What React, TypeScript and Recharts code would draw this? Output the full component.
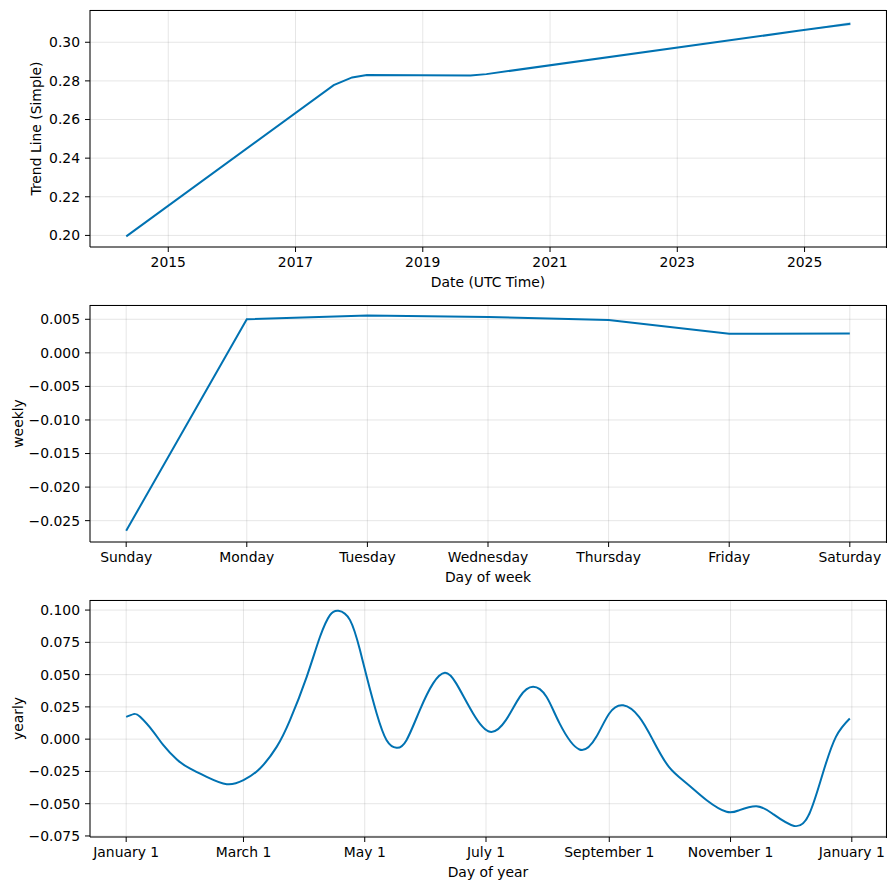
import React from "react";
import {
  ComposedChart,
  LineChart,
  Line,
  Area,
  XAxis,
  YAxis,
  CartesianGrid,
  Label,
} from "recharts";

// trend component (decimal years)
const trendYears = [2014.34, 2017.6, 2017.89, 2018.12, 2019.75, 2020.0, 2024.9, 2025.72];
const trendValues = [0.1995, 0.2778, 0.2818, 0.2831, 0.2828, 0.2835, 0.3059, 0.3096];
const trendLower = [0.1995, 0.2778, 0.2818, 0.2831, 0.2828, 0.2835, 0.3059, 0.3087];
const trendUpper = [0.1995, 0.2778, 0.2818, 0.2831, 0.2828, 0.2835, 0.3059, 0.3105];
const trendTicks = [2015, 2017, 2019, 2021, 2023, 2025];
const trendYTicks = [0.2, 0.22, 0.24, 0.26, 0.28, 0.3];

// weekly component
const weekDays = ["Sunday", "Monday", "Tuesday", "Wednesday", "Thursday", "Friday", "Saturday"];
const weeklyValues = [-0.0265, 0.005, 0.00555, 0.00535, 0.0049, 0.00285, 0.0029];
const weeklyYTicks = [-0.025, -0.02, -0.015, -0.01, -0.005, 0, 0.005];

// yearly component (day of year)
const yearDays = [
  0, 3.7, 7, 13.7, 18.7, 25.5, 32, 40.5, 50.6, 59, 67.3, 75.7, 82.4, 90.8, 97.5,
  102.5, 106.7, 112.6, 117.6, 121, 126, 131, 136, 141, 147.7, 154.4, 160.3, 166,
  174.5, 183, 191, 198, 204.7, 211.4, 218, 228, 236.5, 243, 250, 258, 265, 273,
  282, 292, 302, 308.5, 317, 325, 336, 343.7, 350.4, 357, 364,
];
const yearlyValues = [
  0.0173, 0.0194, 0.0173, 0.0057, -0.0047, -0.0158, -0.0227, -0.0292, -0.0349,
  -0.0318, -0.0227, -0.006, 0.0147, 0.0483, 0.0793, 0.0961, 0.0995, 0.0922,
  0.069, 0.0483, 0.0199, -0.0008, -0.0067, -0.0008, 0.0225, 0.0432, 0.0514,
  0.0432, 0.0199, 0.0057, 0.0147, 0.0328, 0.0405, 0.0328, 0.0122, -0.008,
  0.0018, 0.0199, 0.0262, 0.0173, -0.0008, -0.0215, -0.0343, -0.0473, -0.0563,
  -0.055, -0.0519, -0.0576, -0.0672, -0.0576, -0.0266, 0.0018, 0.016,
];
const monthTicks = [0, 59, 120, 181, 243, 304, 365];
const monthLabels = ["January 1", "March 1", "May 1", "July 1", "September 1", "November 1", "January 1"];
const yearlyYTicks = [-0.075, -0.05, -0.025, 0, 0.025, 0.05, 0.075, 0.1];

const BLUE = "#0072B2";
const FONT = '"DejaVu Sans", sans-serif';
const FS = 13.9;
const W = 895;
const H = 295;
const margin = { top: 10, right: 9, bottom: 0, left: 0 };
const tick = { fill: "#000", stroke: "none", fontSize: FS, fontFamily: FONT, fontWeight: 400 };
const black = { stroke: "#000", strokeWidth: 1 };

const fmt = (digits: number) => (v: number) => {
  const s = Math.abs(v).toFixed(digits);
  return v < -1e-9 ? "\u2212" + s : s;
};

function yLabel(text: string, x: number) {
  return (props: any) => {
    const vb = props.viewBox || { y: 10, height: 237 };
    const cy = vb.y + vb.height / 2;
    return (
      <text
        x={x}
        y={cy}
        transform={`rotate(-90 ${x} ${cy})`}
        textAnchor="middle"
        dominantBaseline="central"
        fontFamily={FONT}
        fontSize={FS}
        fill="#000"
      >
        {text}
      </text>
    );
  };
}

function xLabel(text: string) {
  return (props: any) => {
    const vb = props.viewBox || { x: 90, y: 247, width: 796 };
    return (
      <text
        x={vb.x + vb.width / 2}
        y={vb.y + 35}
        textAnchor="middle"
        dominantBaseline="central"
        fontFamily={FONT}
        fontSize={FS}
        fill="#000"
      >
        {text}
      </text>
    );
  };
}

// top and right spines, matplotlib style box around the plot area
function Panel({ children }: { children: React.ReactNode }) {
  return (
    <div style={{ position: "relative", width: W, height: H }}>
      {children}
      <div
        style={{
          position: "absolute",
          left: 90,
          top: 9.5,
          width: 796.5,
          height: 238,
          boxSizing: "border-box",
          borderTop: "1px solid #000",
          borderRight: "1px solid #000",
          pointerEvents: "none",
        }}
      />
    </div>
  );
}

const grid = <CartesianGrid stroke="#808080" strokeOpacity={0.2} strokeWidth={1} />;

export default function App() {
  const trendData = trendYears.map((x, i) => ({
    x,
    trend: trendValues[i],
    band: [trendLower[i], trendUpper[i]],
  }));
  const weeklyData = weeklyValues.map((v, i) => ({ x: i, weekly: v }));
  const yearlyData = yearDays.map((x, i) => ({ x, yearly: yearlyValues[i] }));

  return (
    <div style={{ position: "absolute", left: 0, top: 0, width: W, height: 890, background: "#fff" }}>
      <Panel>
        <ComposedChart width={W} height={H} data={trendData} margin={margin}>
          {grid}
          <XAxis
            type="number"
            dataKey="x"
            domain={[2013.77, 2026.28]}
            ticks={trendTicks}
            interval={0}
            allowDataOverflow
            height={48}
            tick={tick}
            tickSize={5}
            tickMargin={5}
            axisLine={black}
            tickLine={black}
          >
            <Label content={xLabel("Date (UTC Time)")} />
          </XAxis>
          <YAxis
            type="number"
            domain={[0.194, 0.3167]}
            ticks={trendYTicks}
            interval={0}
            allowDataOverflow
            width={90}
            tick={tick}
            tickFormatter={fmt(2)}
            tickSize={5}
            tickMargin={5}
            axisLine={black}
            tickLine={black}
          >
            <Label content={yLabel("Trend Line (Simple)", 36)} />
          </YAxis>
          <Area dataKey="band" type="linear" stroke="none" fill={BLUE} fillOpacity={0.2} isAnimationActive={false} />
          <Line dataKey="trend" type="linear" stroke={BLUE} strokeWidth={2} dot={false} isAnimationActive={false} />
        </ComposedChart>
      </Panel>

      <Panel>
        <LineChart width={W} height={H} data={weeklyData} margin={margin}>
          {grid}
          <XAxis
            type="number"
            dataKey="x"
            domain={[-0.3, 6.3]}
            ticks={[0, 1, 2, 3, 4, 5, 6]}
            interval={0}
            allowDataOverflow
            height={48}
            tick={tick}
            tickFormatter={(v: number) => weekDays[v]}
            tickSize={5}
            tickMargin={5}
            axisLine={black}
            tickLine={black}
          >
            <Label content={xLabel("Day of week")} />
          </XAxis>
          <YAxis
            type="number"
            domain={[-0.02818, 0.00713]}
            ticks={weeklyYTicks}
            interval={0}
            allowDataOverflow
            width={90}
            tick={tick}
            tickFormatter={fmt(3)}
            tickSize={5}
            tickMargin={5}
            axisLine={black}
            tickLine={black}
          >
            <Label content={yLabel("weekly", 17.5)} />
          </YAxis>
          <Line dataKey="weekly" type="linear" stroke={BLUE} strokeWidth={2} dot={false} isAnimationActive={false} />
        </LineChart>
      </Panel>

      <Panel>
        <LineChart width={W} height={H} data={yearlyData} margin={margin}>
          {grid}
          <XAxis
            type="number"
            dataKey="x"
            domain={[-18.2, 382.2]}
            ticks={monthTicks}
            interval={0}
            allowDataOverflow
            height={48}
            tick={tick}
            tickFormatter={(v: number, i: number) => monthLabels[i]}
            tickSize={5}
            tickMargin={5}
            axisLine={black}
            tickLine={black}
          >
            <Label content={xLabel("Day of year")} />
          </XAxis>
          <YAxis
            type="number"
            domain={[-0.0758, 0.1078]}
            ticks={yearlyYTicks}
            interval={0}
            allowDataOverflow
            width={90}
            tick={tick}
            tickFormatter={fmt(3)}
            tickSize={5}
            tickMargin={5}
            axisLine={black}
            tickLine={black}
          >
            <Label content={yLabel("yearly", 17.5)} />
          </YAxis>
          <Line dataKey="yearly" type="natural" stroke={BLUE} strokeWidth={2} dot={false} isAnimationActive={false} />
        </LineChart>
      </Panel>
    </div>
  );
}
